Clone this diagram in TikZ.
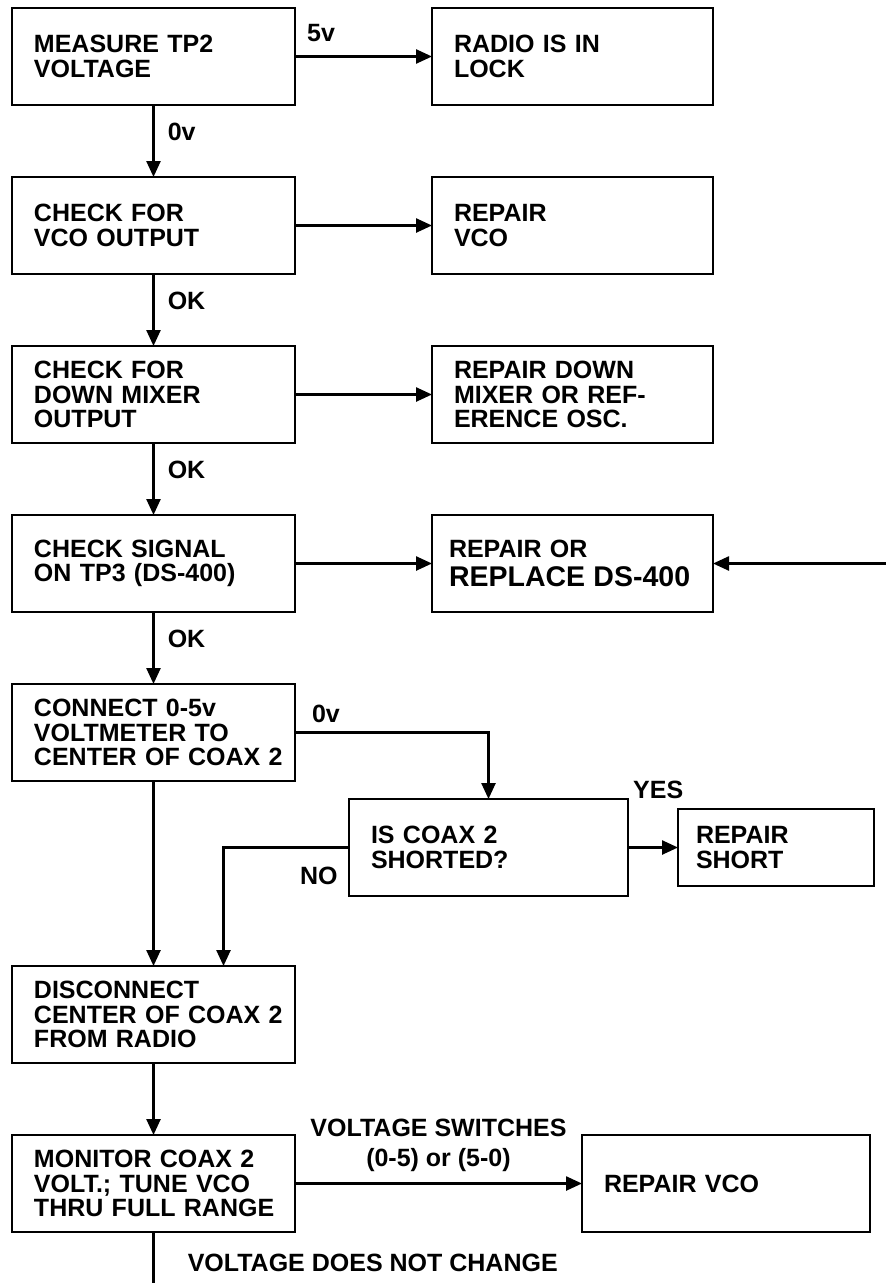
\documentclass[tikz,border=0pt]{standalone}
\usepackage{fontspec}
\setmainfont{Liberation Sans}
\usetikzlibrary{positioning, arrows.meta}
\newcommand{\flowfont}{\fontsize{25}{24.5}\selectfont\bfseries}
\tikzstyle{box} = [rectangle, draw=black, line width=2.8pt, outer sep=0pt,
minimum height=97pt, inner xsep=0pt, text width=283pt, align=left,
execute at begin node={\leftskip=22pt\relax}, % indent inside the box
font=\flowfont]
\tikzstyle{rbox} = [box, text width=281pt]
\tikzstyle{lbl} = [inner sep=0pt, font=\flowfont]
\tikzstyle{wire} = [line width=2.5pt]
\tikzstyle{arrow} = [wire, ->]

\begin{document}
\begin{tikzpicture}[>={Triangle[length=16pt,width=14pt]}, node distance=72pt]
    \useasboundingbox (0,0) rectangle (886pt,-1283pt);
    \coordinate (rimright) at (886pt,0);
    \coordinate (rimbottom) at (0,-1283pt);

    \node[box] (c0) at (153.5pt,-56.5pt) {MEASURE TP2\\VOLTAGE};
    \node[box, below=of c0] (c1) {CHECK FOR\\VCO OUTPUT};
    \node[box, below=of c1] (c2) {CHECK FOR\\DOWN MIXER\\OUTPUT};
    \node[box, below=of c2] (c3) {CHECK SIGNAL\\ON TP3 (DS-400)};
    \node[box, below=of c3] (c4) {CONNECT 0-5v\\VOLTMETER TO\\CENTER OF COAX 2};
    \node[box, below=185pt of c4] (c5) {DISCONNECT\\CENTER OF COAX 2\\FROM RADIO};
    \node[box, below=of c5] (c6) {MONITOR COAX 2\\VOLT.; TUNE VCO\\THRU FULL RANGE};

    \node[rbox, right=137pt of c0] (r0) {RADIO IS IN\\LOCK};
    \node[rbox, right=137pt of c1] (r1) {REPAIR\\VCO};
    \node[rbox, right=137pt of c2] (r2) {REPAIR DOWN\\MIXER OR REF-\\ERENCE OSC.};
    \node[rbox, right=137pt of c3, execute at begin node={\leftskip=17pt\relax}] (r3)
        {REPAIR OR\\[5pt]{\fontsize{28.5}{28}\selectfont REPLACE DS-400}};
    \node[rbox, text width=279pt, below right=18pt and 54pt of c4] (q) {IS COAX 2\\SHORTED?};
    \node[rbox, text width=196pt, minimum height=77pt, right=50pt of q,
        execute at begin node={\leftskip=18pt\relax}] (s) {REPAIR\\SHORT};
    \node[rbox, text width=288pt, right=287pt of c6] (r4) {REPAIR VCO};

    \draw[arrow] (c0) -- node[lbl, pos=0.19, above=14pt] {5v} (r0);
    \draw[arrow] (c0) -- node[lbl, pos=0.37, right=13pt] {0v} (c1);
    \draw[arrow] (c1) -- (r1);
    \draw[arrow] (c1) -- node[lbl, pos=0.37, right=13pt] {OK} (c2);
    \draw[arrow] (c2) -- (r2);
    \draw[arrow] (c2) -- node[lbl, pos=0.37, right=13pt] {OK} (c3);
    \draw[arrow] (c3) -- (r3);
    \draw[arrow] (rimright |- r3) -- (r3);
    \draw[arrow] (c3) -- node[lbl, pos=0.37, right=13pt] {OK} (c4);
    \draw[arrow] (c4) -| node[lbl, pos=0.08, above=9pt] {0v} (q);
    \draw[arrow] (q) -- (s);
    \node[lbl, anchor=south west] (yes) at ([xshift=5pt]q.north east) {YES};
    \draw[arrow] (q) -| node[lbl, pos=0.12, below=18pt] {NO} ([xshift=70pt]c5.north);
    \draw[arrow] (c4) -- (c5);
    \draw[arrow] (c5) -- (c6);
    \draw[arrow] (c6) -- node[lbl, align=center, above=11pt] {VOLTAGE SWITCHES\\[5pt](0-5) or (5-0)} (r4);
    \draw[wire] (c6) -- node[lbl, pos=0.6, anchor=west, xshift=33pt] {VOLTAGE DOES NOT CHANGE} (c6 |- rimbottom);
\end{tikzpicture}
\end{document}
